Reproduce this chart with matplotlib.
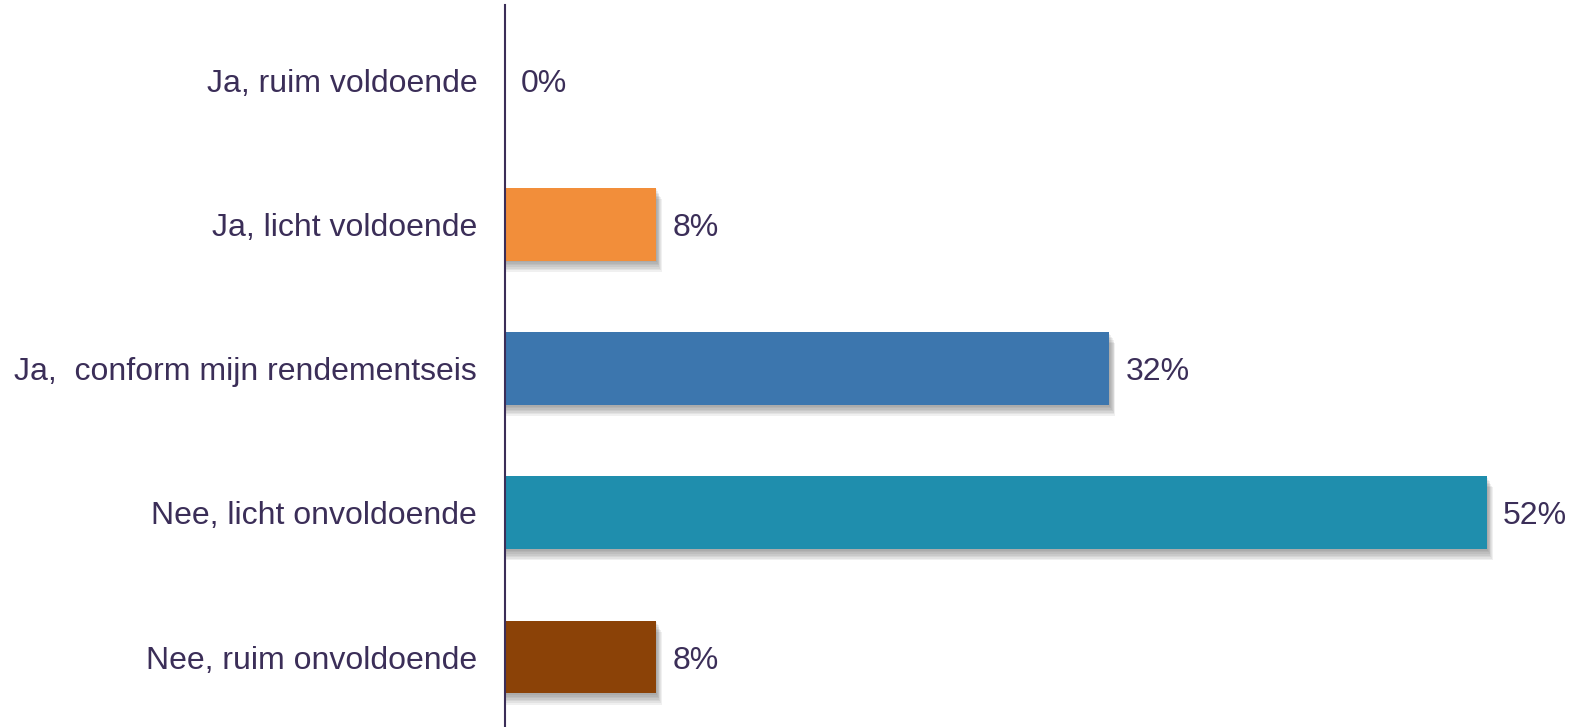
import matplotlib.pyplot as plt
from matplotlib.patches import Rectangle

categories = ["Ja, ruim voldoende", "Ja, licht voldoende", "Ja,  conform mijn rendementseis",
              "Nee, licht onvoldoende", "Nee, ruim onvoldoende"]
values = [0, 8, 32, 52, 8]
colors = ["#F28E3A", "#F28E3A", "#3C76AE", "#1F8EAD", "#8B4207"]

text_col = "#3b2e58"
plt.rcParams["font.family"] = ["Liberation Sans", "DejaVu Sans"]

fig = plt.figure(figsize=(15.69, 7.27), dpi=100)
ax = fig.add_axes([505 / 1569, 0, 1 - 505 / 1569, 1 - 5 / 727])

ypos = list(range(len(categories)))
h = 0.505

# soft drop shadow: stacked translucent rectangles
for y, v in zip(ypos, values):
    if v == 0:
        continue
    for k in range(1, 8):
        dx = 0.045 * k
        dy = 0.011 * k
        ax.add_patch(Rectangle((0, y - h / 2 + dy), v + dx, h, color="#444444",
                               alpha=0.08, lw=0, zorder=1))

ax.barh(ypos, values, height=h, color=colors, zorder=2)

for y, v in zip(ypos, values):
    ax.text(v + 0.85, y, f"{v}%", va="center_baseline", ha="left", fontsize=23, color=text_col)

ax.set_xlim(0, 56.34)
ax.set_ylim(4.485, -0.52)
ax.set_yticks(ypos)
ax.set_yticklabels(categories, fontsize=23, color=text_col, va="center_baseline")
ax.tick_params(axis="y", length=0, pad=20)
ax.set_xticks([])
for s in ["top", "right", "bottom"]:
    ax.spines[s].set_visible(False)
ax.spines["left"].set_color(text_col)
ax.spines["left"].set_linewidth(1.5)

fig.savefig("out.png", dpi=100)
